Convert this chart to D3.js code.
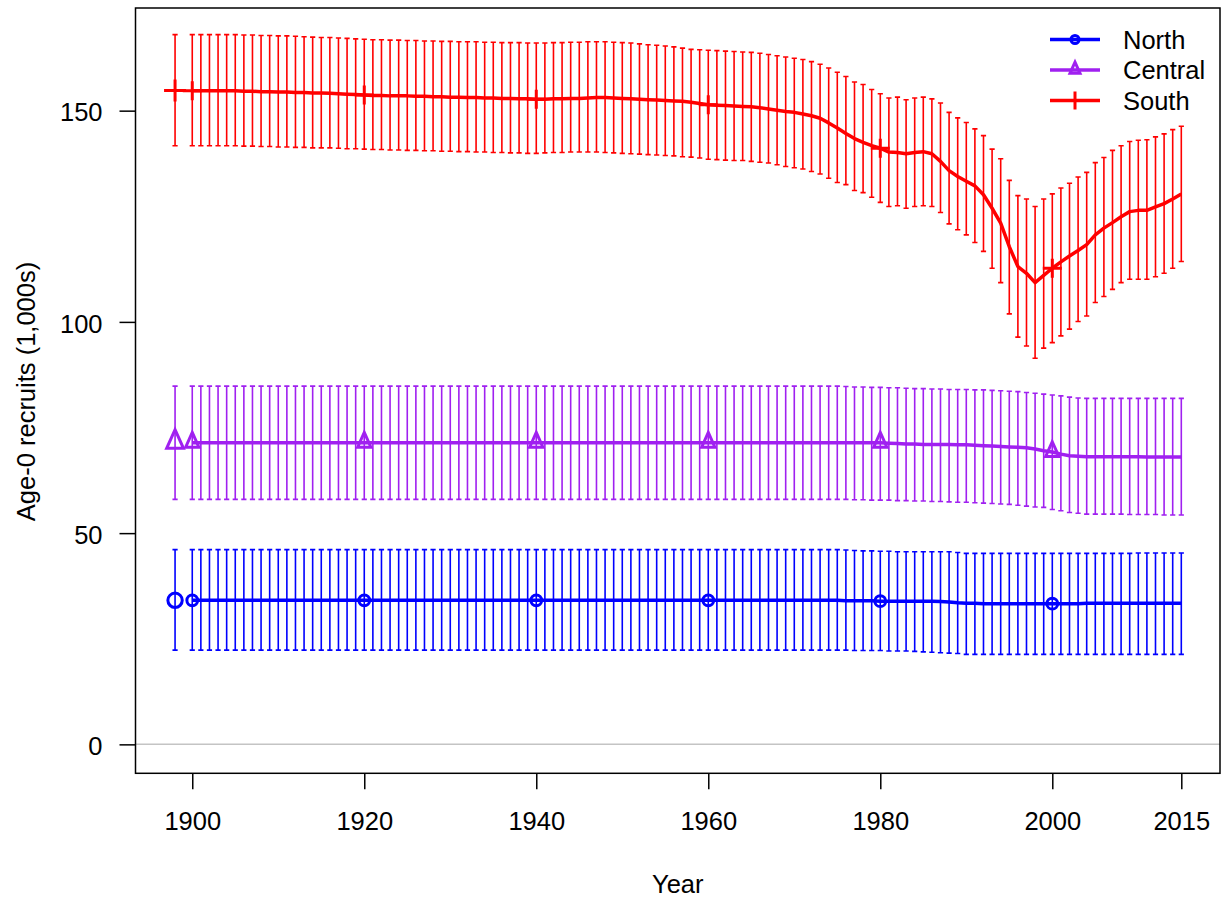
<!DOCTYPE html>
<html><head><meta charset="utf-8">
<script src="https://cdn.jsdelivr.net/npm/d3@7"></script>
<style>body{margin:0;background:#fff}svg{display:block}text{font-family:"Liberation Sans",Arial,sans-serif}</style>
</head><body><svg id="chart" width="1224" height="901"></svg>
<script>
// ---------- data ----------
const firstYear = 1900, lastYear = 2015;
const years = d3.range(firstYear, lastYear + 1);
const virginYear = 1898;
const regions = ["North", "Central", "South"];
const markerYears = [1900, 1920, 1940, 1960, 1980, 2000];
const xTicks = [1900, 1920, 1940, 1960, 1980, 2000, 2015];
const yTicks = [0, 50, 100, 150];
const xLabel = "Year";
const yLabel = "Age-0 recruits (1,000s)";

// virgin (1898) estimate and interval: North, Central, South
const virginVal = [34.1, 71.4, 154.8];
const virginLo  = [22.3, 58.0, 141.7];
const virginHi  = [46.1, 84.8, 168.0];

const northVal = [
34.1,34.1,34.1,34.1,34.1,34.1,34.1,34.1,34.1,34.1,
34.1,34.1,34.1,34.1,34.1,34.1,34.1,34.1,34.1,34.1,
34.1,34.1,34.1,34.1,34.1,34.1,34.1,34.1,34.1,34.1,
34.1,34.1,34.1,34.1,34.1,34.1,34.1,34.1,34.1,34.1,
34.1,34.1,34.1,34.1,34.1,34.1,34.1,34.1,34.1,34.1,
34.1,34.1,34.1,34.1,34.1,34.1,34.1,34.1,34.1,34.1,
34.1,34.1,34.1,34.1,34.1,34.1,34.1,34.1,34.1,34.1,
34.1,34.1,34.1,34.1,34.1,34.1,34.0,34.0,34.0,34.0,
33.9,33.9,33.9,33.9,33.9,33.9,33.9,33.8,33.7,33.5,
33.4,33.4,33.3,33.3,33.3,33.3,33.3,33.3,33.3,33.3,
33.3,33.3,33.3,33.3,33.4,33.4,33.4,33.4,33.4,33.4,
33.4,33.4,33.4,33.4,33.4,33.4];
const northHi = [
46.1,46.1,46.1,46.1,46.1,46.1,46.1,46.1,46.1,46.1,
46.1,46.1,46.1,46.1,46.1,46.1,46.1,46.1,46.1,46.1,
46.1,46.1,46.1,46.1,46.1,46.1,46.1,46.1,46.1,46.1,
46.1,46.1,46.1,46.1,46.1,46.1,46.1,46.1,46.1,46.1,
46.1,46.1,46.1,46.1,46.1,46.1,46.1,46.1,46.1,46.1,
46.1,46.1,46.1,46.1,46.1,46.1,46.1,46.1,46.1,46.1,
46.1,46.1,46.1,46.1,46.1,46.1,46.1,46.1,46.1,46.1,
46.1,46.1,46.1,46.1,46.1,46.1,46.0,45.9,45.8,45.8,
45.7,45.7,45.6,45.6,45.6,45.6,45.6,45.6,45.6,45.4,
45.2,45.2,45.2,45.2,45.2,45.2,45.2,45.2,45.2,45.2,
45.2,45.2,45.2,45.2,45.2,45.2,45.2,45.2,45.2,45.2,
45.3,45.3,45.3,45.3,45.3,45.3];
const northLo = [
22.3,22.3,22.3,22.3,22.3,22.3,22.3,22.3,22.3,22.3,
22.3,22.3,22.3,22.3,22.3,22.3,22.3,22.3,22.3,22.3,
22.3,22.3,22.3,22.3,22.3,22.3,22.3,22.3,22.3,22.3,
22.3,22.3,22.3,22.3,22.3,22.3,22.3,22.3,22.3,22.3,
22.3,22.3,22.3,22.3,22.3,22.3,22.3,22.3,22.3,22.3,
22.3,22.3,22.3,22.3,22.3,22.3,22.3,22.3,22.3,22.3,
22.3,22.3,22.3,22.3,22.3,22.3,22.3,22.3,22.3,22.3,
22.3,22.3,22.3,22.3,22.3,22.3,22.3,22.2,22.2,22.2,
22.2,22.1,22.1,22.1,22.0,21.9,21.8,21.7,21.6,21.5,
21.3,21.3,21.3,21.3,21.3,21.3,21.3,21.3,21.3,21.3,
21.3,21.3,21.3,21.3,21.3,21.3,21.3,21.3,21.3,21.3,
21.3,21.3,21.3,21.3,21.3,21.3];

const centralVal = [
71.4,71.4,71.4,71.4,71.4,71.4,71.4,71.4,71.4,71.4,
71.4,71.4,71.4,71.4,71.4,71.4,71.4,71.4,71.4,71.4,
71.4,71.4,71.4,71.4,71.4,71.4,71.4,71.4,71.4,71.4,
71.4,71.4,71.4,71.4,71.4,71.4,71.4,71.4,71.4,71.4,
71.4,71.4,71.4,71.4,71.4,71.4,71.4,71.4,71.4,71.4,
71.4,71.4,71.4,71.4,71.4,71.4,71.4,71.4,71.4,71.4,
71.4,71.4,71.4,71.4,71.4,71.4,71.4,71.4,71.4,71.4,
71.4,71.4,71.4,71.4,71.4,71.4,71.4,71.4,71.4,71.4,
71.4,71.3,71.2,71.1,71.1,71.0,71.0,71.0,71.0,70.9,
70.9,70.8,70.7,70.6,70.5,70.4,70.3,70.2,69.9,69.5,
69.2,68.7,68.3,68.2,68.1,68.1,68.1,68.1,68.1,68.1,
68.1,68.0,68.0,68.0,68.0,68.0];
const centralHi = [
84.8,84.8,84.8,84.8,84.8,84.8,84.8,84.8,84.8,84.8,
84.8,84.8,84.8,84.8,84.8,84.8,84.8,84.8,84.8,84.8,
84.8,84.8,84.8,84.8,84.8,84.8,84.8,84.8,84.8,84.8,
84.8,84.8,84.8,84.8,84.8,84.8,84.8,84.8,84.8,84.8,
84.8,84.8,84.8,84.8,84.8,84.8,84.8,84.8,84.8,84.8,
84.8,84.8,84.8,84.8,84.8,84.8,84.8,84.8,84.8,84.8,
84.8,84.8,84.8,84.8,84.8,84.8,84.8,84.8,84.8,84.8,
84.8,84.8,84.8,84.8,84.8,84.8,84.7,84.6,84.6,84.5,
84.5,84.4,84.4,84.3,84.2,84.2,84.1,84.1,84.0,84.0,
84.0,83.9,83.9,83.8,83.7,83.6,83.5,83.3,83.1,82.9,
82.7,82.5,82.2,82.0,81.9,81.9,81.9,81.9,81.9,81.9,
81.9,81.9,81.9,81.9,81.9,81.9];
const centralLo = [
58.0,58.0,58.0,58.0,58.0,58.0,58.0,58.0,58.0,58.0,
58.0,58.0,58.0,58.0,58.0,58.0,58.0,58.0,58.0,58.0,
58.0,58.0,58.0,58.0,58.0,58.0,58.0,58.0,58.0,58.0,
58.0,58.0,58.0,58.0,58.0,58.0,58.0,58.0,58.0,58.0,
58.0,58.0,58.0,58.0,58.0,58.0,58.0,58.0,58.0,58.0,
58.0,58.0,58.0,58.0,58.0,58.0,58.0,58.0,58.0,58.0,
58.0,58.0,58.0,58.0,58.0,58.0,58.0,58.0,58.0,58.0,
58.0,58.0,58.0,58.0,58.0,58.0,58.0,57.9,57.9,57.8,
57.8,57.8,57.7,57.7,57.6,57.6,57.5,57.5,57.4,57.3,
57.3,57.2,57.1,57.0,56.9,56.8,56.6,56.4,56.2,56.1,
55.6,55.3,54.9,54.7,54.5,54.5,54.5,54.5,54.5,54.4,
54.4,54.4,54.4,54.3,54.3,54.3];

const southVal = [
154.7,154.7,154.7,154.7,154.7,154.7,154.6,154.6,154.5,154.5,
154.4,154.4,154.3,154.3,154.2,154.2,154.1,154.0,153.9,153.8,
153.7,153.6,153.6,153.5,153.5,153.5,153.4,153.4,153.3,153.3,
153.2,153.2,153.1,153.1,153.0,153.0,152.9,152.9,152.8,152.8,
152.7,152.7,152.8,152.8,152.9,152.9,153.0,153.1,153.1,153.0,
152.9,152.8,152.7,152.6,152.5,152.4,152.3,152.2,152.0,151.7,
151.4,151.3,151.2,151.1,151.0,150.9,150.7,150.4,150.1,149.8,
149.6,149.2,148.8,148.2,147.1,145.9,144.6,143.4,142.5,141.7,
141.1,140.2,140.1,139.8,140.1,140.3,139.8,138.0,135.8,134.4,
133.3,132.2,130.1,126.9,123.4,117.8,113.1,111.5,109.3,111.0,
112.7,114.2,115.6,116.9,118.3,120.6,122.2,123.5,124.9,126.1,
126.4,126.4,127.2,128.0,129.1,130.3];
const southHi = [
168.0,168.0,168.0,168.0,168.0,168.0,167.9,167.9,167.8,167.8,
167.7,167.7,167.6,167.5,167.4,167.3,167.3,167.2,167.1,167.0,
166.9,166.8,166.8,166.7,166.7,166.6,166.6,166.5,166.5,166.4,
166.4,166.3,166.3,166.3,166.2,166.2,166.1,166.1,166.1,166.0,
166.0,166.0,166.1,166.1,166.2,166.2,166.3,166.3,166.3,166.2,
166.1,166.0,165.8,165.6,165.5,165.3,165.1,164.8,164.5,164.4,
164.3,164.2,164.1,164.0,163.9,163.8,163.6,163.3,163.0,162.7,
162.4,162.1,161.6,161.0,160.1,159.1,158.1,156.8,156.2,155.0,
154.0,153.0,153.2,152.6,153.0,153.2,152.8,151.8,149.6,148.3,
147.2,145.7,144.1,140.9,138.6,133.5,129.9,129.1,127.3,129.1,
130.3,131.7,132.8,134.3,135.4,137.7,138.9,140.6,141.7,142.7,
143.0,143.1,143.8,144.5,145.5,146.3];
const southLo = [
141.7,141.7,141.7,141.7,141.7,141.7,141.6,141.6,141.5,141.5,
141.4,141.4,141.3,141.3,141.2,141.2,141.2,141.1,141.0,141.0,
140.9,140.8,140.8,140.7,140.7,140.6,140.6,140.5,140.5,140.4,
140.4,140.3,140.3,140.2,140.2,140.1,140.1,140.0,140.0,139.9,
139.9,140.0,140.1,140.1,140.2,140.2,140.2,140.2,140.1,140.0,
139.9,139.8,139.7,139.6,139.5,139.4,139.3,139.1,139.0,138.8,
138.5,138.4,138.3,138.2,138.2,138.0,137.8,137.6,137.2,136.8,
136.5,136.2,135.6,135.0,134.0,133.0,132.5,131.1,130.6,129.5,
128.3,127.3,127.5,126.9,127.3,127.5,127.3,125.9,123.2,121.8,
120.6,118.8,116.7,112.7,109.3,101.9,96.4,94.3,91.4,93.8,
95.1,96.7,98.3,100.1,101.4,104.6,106.0,107.7,109.3,110.1,
110.1,110.1,110.7,111.5,112.7,114.3];

// ---------- styles ----------
const colors = {North: "#0000FF", Central: "#A020F0", South: "#FF0000"};
const shapes = {North: "circle", Central: "triangle", South: "plus"};
const FONT = 25.5;

// ---------- chart ----------
const svg = d3.select("#chart");
const x = d3.scaleLinear().domain([1893.4, 2019.5]).range([135.5, 1220]);
const y = d3.scaleLinear().domain([-6.85, 174.3]).range([773.3, 8]);

const seriesData = [
  {name: "North", val: northVal, lo: northLo, hi: northHi},
  {name: "Central", val: centralVal, lo: centralLo, hi: centralHi},
  {name: "South", val: southVal, lo: southLo, hi: southHi}
].map((s, i) => ({...s, v0: virginVal[i], lo0: virginLo[i], hi0: virginHi[i]}));

// zero reference line
svg.append("line").attr("x1", x.range()[0]).attr("x2", x.range()[1])
  .attr("y1", y(0)).attr("y2", y(0)).attr("stroke", "#c4c4c4").attr("stroke-width", 1.5);

function markerPath(shape, s) {
  if (shape === "triangle") {
    return `M0,${-1.555 * s}L${s},${0.673 * s}L${-s},${0.673 * s}Z`;
  }
  if (shape === "plus") {
    return `M${-s},0H${s}M0,${-s}V${s}`;
  }
  return null;
}
function drawMarker(g, shape, cx, cy, size, color, sw) {
  if (shape === "circle") {
    g.append("circle").attr("cx", cx).attr("cy", cy).attr("r", size)
      .attr("fill", "none").attr("stroke", color).attr("stroke-width", sw);
  } else {
    g.append("path").attr("transform", `translate(${cx},${cy})`)
      .attr("d", markerPath(shape, size))
      .attr("fill", "none").attr("stroke", color).attr("stroke-width", sw)
      .attr("stroke-linejoin", "miter");
  }
}
const smallSize = {circle: 5.4, triangle: 6.6, plus: 9.5};
const bigSize = {circle: 7.2, triangle: 8.4, plus: 11};

const capW = 2.6;
seriesData.forEach(s => {
  const col = colors[s.name];
  const g = svg.append("g");
  const bars = years.map((yr, i) => ({yr, lo: s.lo[i], hi: s.hi[i]}));
  bars.push({yr: virginYear, lo: s.lo0, hi: s.hi0});
  const eb = g.append("g").attr("stroke", col).attr("stroke-width", 1.6).attr("fill", "none");
  eb.selectAll("path").data(bars).join("path")
    .attr("d", d => {
      const xx = x(d.yr), y1 = y(d.lo), y2 = y(d.hi);
      return `M${xx},${y1}V${y2}M${xx - capW},${y2}H${xx + capW}M${xx - capW},${y1}H${xx + capW}`;
    });
  const line = d3.line().x((d, i) => x(years[i])).y(d => y(d));
  g.append("path").datum(s.val).attr("d", line)
    .attr("fill", "none").attr("stroke", col).attr("stroke-width", 3.5)
    .attr("stroke-linejoin", "round").attr("stroke-linecap", "butt");
  const shp = shapes[s.name];
  drawMarker(g, shp, x(virginYear), y(s.v0), bigSize[shp], col, 3);
  markerYears.forEach(my => {
    const i = years.indexOf(my);
    drawMarker(g, shp, x(my), y(s.val[i]), smallSize[shp], col, 3);
  });
});

// box
svg.append("rect").attr("x", 135.5).attr("y", 8).attr("width", 1220 - 135.5).attr("height", 773.3 - 8)
  .attr("fill", "none").attr("stroke", "#000").attr("stroke-width", 1.5);

// axes
const yAxis = d3.axisLeft(y).tickValues(yTicks).tickSize(16).tickPadding(17).tickFormat(d3.format("d"));
const gy = svg.append("g").attr("transform", "translate(135.5,0)").call(yAxis);
gy.select(".domain").remove();
gy.selectAll(".tick line").attr("stroke-width", 1.5);
gy.selectAll(".tick text").attr("font-size", FONT).attr("font-family", "Liberation Sans, Arial, sans-serif")
  .attr("fill", "#000").attr("dy", "0.4em");

const xAxis = d3.axisBottom(x).tickValues(xTicks).tickSize(16).tickPadding(23).tickFormat(d3.format("d"));
const gx = svg.append("g").attr("transform", "translate(0,773.3)").call(xAxis);
gx.select(".domain").remove();
gx.selectAll(".tick line").attr("stroke-width", 1.5);
gx.selectAll(".tick text").attr("font-size", FONT).attr("font-family", "Liberation Sans, Arial, sans-serif")
  .attr("fill", "#000");

// axis titles
svg.append("text").attr("x", (135.5 + 1220) / 2).attr("y", 893).attr("text-anchor", "middle")
  .attr("font-size", FONT).attr("fill", "#000").text(xLabel);
svg.append("text").attr("transform", "translate(34.6,391.5) rotate(-90)").attr("text-anchor", "middle")
  .attr("font-size", FONT).attr("fill", "#000").text(yLabel);

// legend
const legendRowY = [39.5, 70, 100.5];
const legendSize = {circle: 4, triangle: 5, plus: 9};
const lg = svg.append("g");
regions.forEach((r, i) => {
  const cy = legendRowY[i], col = colors[r];
  lg.append("line").attr("x1", 1050).attr("x2", 1100).attr("y1", cy).attr("y2", cy)
    .attr("stroke", col).attr("stroke-width", 3.5);
  drawMarker(lg, shapes[r], 1075, cy, legendSize[shapes[r]], col, 3);
  lg.append("text").attr("x", 1123).attr("y", cy).attr("dy", "0.36em")
    .attr("font-size", FONT).attr("fill", "#000").text(r);
});
</script>
</body></html>
